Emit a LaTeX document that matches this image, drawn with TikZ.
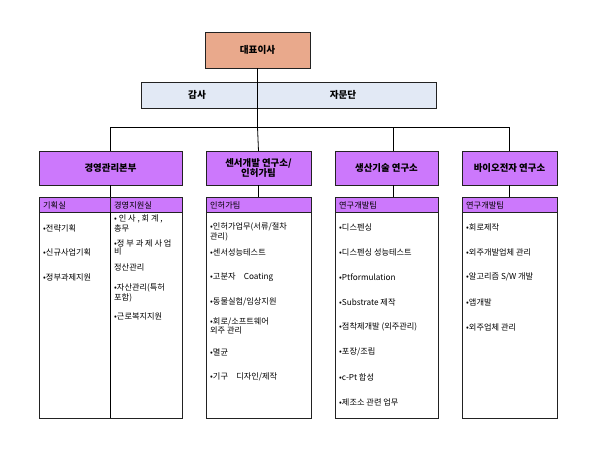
\documentclass[tikz,border=0pt]{standalone}
\usepackage{fontspec}
\setmainfont{Noto Sans CJK KR}
\definecolor{ceoC}{HTML}{E9A98C}
\definecolor{barC}{HTML}{E2E9F5}
\definecolor{purp}{HTML}{CC78FC}
\definecolor{edge}{HTML}{222222}
\begin{document}
\begin{tikzpicture}[x=1pt,y=-1pt,
  box/.style={draw=edge, line width=1pt, inner sep=0pt, outer sep=0pt},
  ceobox/.style={box, fill=ceoC, font=\bfseries\fontsize{9.6}{11}\selectfont},
  barbox/.style={box, fill=barC},
  bartext/.style={inner sep=0pt, font=\bfseries\fontsize{9.6}{11}\selectfont},
  titlebox/.style={box, fill=purp, font=\bfseries\fontsize{9.4}{10}\selectfont, align=center},
  headbox/.style={box, fill=purp, anchor=north west, minimum height=15pt},
  bodybox/.style={box, fill=white, anchor=north west},
  item/.style={anchor=west, inner sep=0pt, font=\fontsize{8.2}{8}\selectfont, align=left},
  conn/.style={draw=black, line width=0.8pt}]
\useasboundingbox[fill=white] (0,0) rectangle (589,453);

% top
\node[ceobox, minimum width=105pt, minimum height=36pt] (ceo) at (257.5,50) {대표이사};
\node[barbox, minimum width=295pt, minimum height=26pt] (bar) at (288.5,95) {};
\coordinate (hub) at (257.5,127);
\draw[conn] (ceo.south) -- (hub);
\node[bartext] (gamsa) at (197,95) {감사};
\node[bartext] (jamun) at (343,95) {자문단};

% divisions
\node[titlebox, minimum width=143pt, minimum height=34pt] (d1) at (110.5,168) {경영관리본부};
\node[titlebox, minimum width=105pt, minimum height=34pt] (d2) at (258.5,168) {센서개발 연구소/\\인허가팀};
\node[titlebox, minimum width=103pt, minimum height=34pt] (d3) at (386.5,168) {생산기술 연구소};
\node[titlebox, minimum width=95pt, minimum height=34pt] (d4) at (509.5,168) {바이오전자 연구소};

\draw[conn] (hub) -| (d1.north);
\draw[conn] (hub) -| (d4.north);
\draw[conn] (hub) -- (d2.north);
\draw[conn] (hub) -| ([xshift=7pt]d3.north);

% lower boxes
\node[bodybox, minimum width=143pt, minimum height=221pt] (b1) at (39,197) {};
\node[headbox, minimum width=71pt] (h1a) at (39,197) {};
\node[headbox, minimum width=72pt] (h1b) at (110,197) {};
\draw[conn] (h1b.south west) -- (h1b.south west |- b1.south);

\node[bodybox, minimum width=105pt, minimum height=221pt] (b2) at (206,197) {};
\node[headbox, minimum width=105pt] (h2) at (206,197) {};
\node[bodybox, minimum width=103pt, minimum height=221pt] (b3) at (335,197) {};
\node[headbox, minimum width=103pt] (h3) at (335,197) {};
\node[bodybox, minimum width=95pt, minimum height=221pt] (b4) at (462,197) {};
\node[headbox, minimum width=95pt] (h4) at (462,197) {};

\draw[conn] (d1.south) -- (d1.south |- h1b.north);
\draw[conn] (d2.south) -- (d2.south |- h2.north);
\draw[conn] ([xshift=7pt]d3.south) -- ([xshift=7pt]d3.south |- h3.north);
\draw[conn] (d4.south) -- (d4.south |- h4.north);

% header texts
\node[item] (t1a) at (43,205) {기획실};
\node[item] (t1b) at (114,205) {경영지원실};
\node[item] (t2) at (210,205) {인허가팀};
\node[item] (t3) at (339,205) {연구개발팀};
\node[item] (t4) at (466,205) {연구개발팀};

% column 1a
\node[item] (a1) at (43,228) {•전략기획};
\node[item] (a2) at (43,252) {•신규사업기획};
\node[item] (a3) at (43,277) {•정부과제지원};

% column 1b
\node[item] (b1i) at (114,223.5) {• 인 사 , 회 계 ,\\총무};
\node[item] (b2i) at (114,247.5) {•정 부 과 제 사 업\\비};
\node[item] (b3i) at (114,267) {정산관리};
\node[item] (b4i) at (114,293) {•자산관리(특허\\포함)};
\node[item] (b5i) at (114,316) {•근로복지지원};

% column 2
\node[item] (c1) at (210,232) {•인허가업무(서류/절차\\관리)};
\node[item] (c2) at (210,252) {•센서성능테스트};
\node[item] (c3) at (210,277) {•고분자\quad Coating};
\node[item] (c4) at (210,302) {•동물실험/임상지원};
\node[item] (c5) at (210,326) {•회로/소프트웨어\\외주 관리};
\node[item] (c6) at (210,352) {•멸균};
\node[item] (c7) at (210,377) {•기구\quad 디자인/제작};

% column 3
\node[item] (e1) at (339,227) {•디스펜싱};
\node[item] (e2) at (339,252) {•디스펜싱 성능테스트};
\node[item] (e3) at (339,277) {•Ptformulation};
\node[item] (e4) at (339,302) {•Substrate 제작};
\node[item] (e5) at (339,327) {•점착제개발 (외주관리)};
\node[item] (e6) at (339,352) {•포장/조립};
\node[item] (e7) at (339,377) {•c-Pt 합성};
\node[item] (e8) at (339,402) {•제조소 관련 업무};

% column 4
\node[item] (f1) at (466,227) {•회로제작};
\node[item] (f2) at (466,252) {•외주개발업체 관리};
\node[item] (f3) at (466,277) {•알고리즘 S/W 개발};
\node[item] (f4) at (466,302) {•앱개발};
\node[item] (f5) at (466,327) {•외주업체 관리};
\end{tikzpicture}
\end{document}
